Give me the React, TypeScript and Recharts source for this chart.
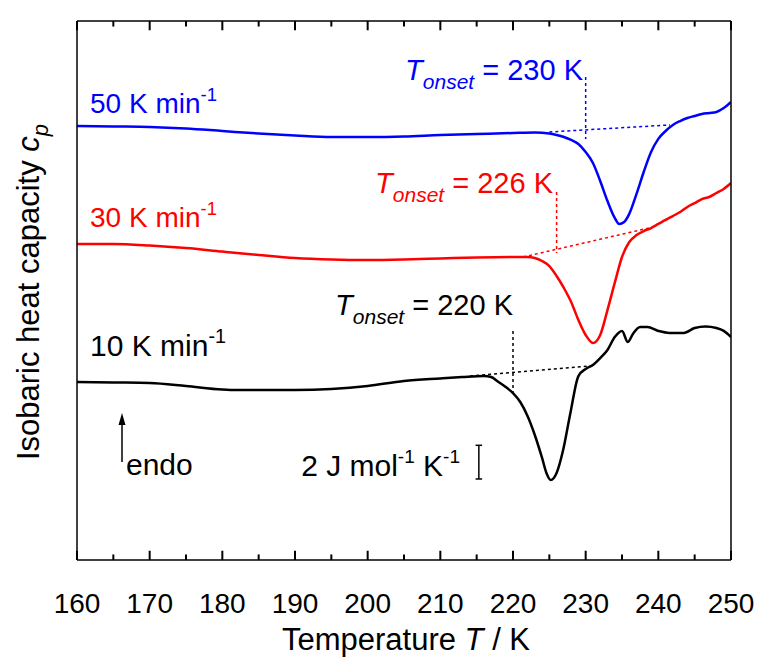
import React from 'react';
import { LineChart, Line, XAxis, YAxis, ReferenceLine } from 'recharts';

// temperature ticks (K)
const tempTicks = [160, 165, 170, 175, 180, 185, 190, 195, 200, 205, 210, 215, 220, 225, 230, 235, 240, 245, 250];

// 50 K/min curve (cp, shifted, J mol-1 K-1)
const temp50 = [160, 165, 170, 175, 180, 185, 190, 195, 200, 205, 210, 215, 220, 223, 225, 226, 227, 228, 229, 230, 231, 232, 233, 234, 234.6, 235.3, 236, 237, 238, 239, 240, 241, 242, 243, 244, 245, 246, 247, 248, 249, 250];
const cp50 = [25.77, 25.74, 25.71, 25.62, 25.47, 25.32, 25.2, 25.11, 25.11, 25.14, 25.23, 25.29, 25.35, 25.38, 25.32, 25.23, 25.11, 24.94, 24.7, 24.22, 23.57, 22.5, 21.31, 20.31, 19.95, 20.07, 20.55, 21.74, 23.05, 24.22, 25.0, 25.47, 25.83, 26.06, 26.24, 26.36, 26.48, 26.54, 26.6, 26.83, 27.19];

// 30 K/min curve
const temp30 = [160, 165, 170, 175, 180, 185, 190, 195, 200, 205, 210, 215, 220, 222, 223, 224, 225, 226, 227, 228, 229, 230, 231, 232, 233, 234, 235, 236, 237, 238, 239, 240, 241, 242, 243, 244, 245, 246, 247, 248, 249, 250];
const cp30 = [18.76, 18.76, 18.67, 18.52, 18.31, 18.11, 17.93, 17.84, 17.81, 17.84, 17.9, 17.96, 17.99, 17.99, 17.93, 17.75, 17.45, 16.86, 16.15, 15.32, 14.25, 13.36, 12.88, 13.36, 14.84, 16.45, 17.99, 18.88, 19.29, 19.53, 19.71, 19.95, 20.19, 20.42, 20.66, 20.96, 21.19, 21.43, 21.55, 21.79, 22.03, 22.38];

// 10 K/min curve
const temp10 = [160, 165, 170, 175, 180, 182, 185, 190, 195, 200, 205, 210, 213, 216, 217, 218, 219, 220, 221, 222, 223, 224, 224.6, 225.2, 226, 226.9, 227.9, 229, 230, 231, 232, 233, 234, 235, 235.8, 236.5, 237.5, 238.5, 240, 241.5, 243.5, 245, 246.5, 248, 249, 250];
const cp10 = [10.57, 10.54, 10.51, 10.33, 10.12, 10.09, 10.09, 10.09, 10.15, 10.33, 10.63, 10.78, 10.86, 10.92, 10.86, 10.57, 10.27, 9.91, 9.38, 8.55, 7.42, 6.06, 5.17, 4.75, 5.17, 6.53, 8.73, 10.92, 11.34, 11.58, 11.99, 12.47, 13.24, 13.6, 12.94, 13.42, 13.83, 13.83, 13.6, 13.48, 13.48, 13.77, 13.86, 13.77, 13.6, 13.24];

// onset construction: baseline extrapolation [T1, cp1, T2, cp2] and vertical marker [T, cpTop, cpBottom]
const baseline50 = [225, 25.41, 241.6, 25.83];
const baseline30 = [221.4, 17.99, 239.3, 19.77];
const baseline10 = [214.1, 10.92, 230.6, 11.52];
const onset50 = [230, 28.67, 24.99];
const onset30 = [226, 21.85, 18.23];
const onset10 = [220, 13.6, 9.91];

// scale bar: 2 J mol-1 K-1
const scaleBar = [215.3, 4.81, 6.81];

const Y_MIN = 0;
const Y_MAX = 32;

const toRows = (ts: number[], vs: number[]) => ts.map((T, i) => ({ T, cp: vs[i] }));
const series50 = toRows(temp50, cp50);
const series30 = toRows(temp30, cp30);
const series10 = toRows(temp10, cp10);

const FONT = '"Liberation Sans", Arial, sans-serif';
const BLUE = '#0000ff';
const RED = '#ff0000';

const BottomTick = (props: any) => {
  const { x, y, payload } = props;
  if (payload.value % 10 !== 0) return <g />;
  return (
    <text x={x} y={y + 53} textAnchor="middle" fontSize={28} fontFamily={FONT} fill="#000">
      {payload.value}
    </text>
  );
};

const dashed = { strokeDasharray: '3 3', strokeWidth: 1.5 };
const frame = { stroke: '#000', strokeWidth: 1.5 };

const Rate = ({ x, y, n, color, size }: { x: number; y: number; n: number; color: string; size: number }) => (
  <text x={x} y={y} fontSize={size} fontFamily={FONT} fill={color}>
    {n} K min
    <tspan fontSize={size * 0.66} dy={-size * 0.43}>-1</tspan>
  </text>
);

const Onset = ({ x, y, t, color }: { x: number; y: number; t: number; color: string }) => (
  <text x={x} y={y} fontSize={29} fontFamily={FONT} fill={color} textAnchor="end">
    <tspan fontStyle="italic">T</tspan>
    <tspan fontStyle="italic" fontSize={21} dy={9}>onset</tspan>
    <tspan dy={-9}>{` = ${t} K`}</tspan>
  </text>
);

export default function App() {
  // inward tick marks on the bottom and top frame edges (length in y-units)
  const tickMarks = tempTicks.flatMap((t) => {
    const len = t % 10 === 0 ? 0.55 : 0.33;
    return [
      <ReferenceLine key={`b${t}`} ifOverflow="visible" segment={[{ x: t, y: Y_MIN }, { x: t, y: Y_MIN + len }]} stroke="#000" strokeWidth={2} />,
      <ReferenceLine key={`t${t}`} ifOverflow="visible" segment={[{ x: t, y: Y_MAX }, { x: t, y: Y_MAX - len }]} stroke="#000" strokeWidth={2} />,
    ];
  });

  return (
    <div style={{ position: 'absolute', left: 0, top: 0, width: 760, height: 657, background: '#fff' }}>
      <LineChart width={760} height={657} margin={{ top: 11, right: 19, bottom: 67, left: 67 }}>
        <XAxis
          dataKey="T"
          type="number"
          domain={[160, 250]}
          ticks={tempTicks}
          interval={0}
          height={30}
          tickSize={0}
          tickMargin={0}
          tickLine={false}
          tick={<BottomTick />}
          axisLine={frame}
          allowDataOverflow
        />
        <XAxis
          xAxisId="top"
          orientation="top"
          dataKey="T"
          type="number"
          domain={[160, 250]}
          height={10}
          tick={false}
          tickLine={false}
          axisLine={frame}
          allowDataOverflow
        />
        <YAxis
          type="number"
          domain={[Y_MIN, Y_MAX]}
          width={10}
          tick={false}
          tickLine={false}
          axisLine={frame}
          allowDataOverflow
        />
        <YAxis
          yAxisId="right"
          orientation="right"
          type="number"
          domain={[Y_MIN, Y_MAX]}
          width={10}
          tick={false}
          tickLine={false}
          axisLine={frame}
          allowDataOverflow
        />

        {tickMarks}

        <ReferenceLine segment={[{ x: baseline50[0], y: baseline50[1] }, { x: baseline50[2], y: baseline50[3] }]} stroke={BLUE} {...dashed} />
        <ReferenceLine segment={[{ x: onset50[0], y: onset50[1] }, { x: onset50[0], y: onset50[2] }]} stroke={BLUE} {...dashed} />
        <ReferenceLine segment={[{ x: baseline30[0], y: baseline30[1] }, { x: baseline30[2], y: baseline30[3] }]} stroke={RED} {...dashed} />
        <ReferenceLine segment={[{ x: onset30[0], y: onset30[1] }, { x: onset30[0], y: onset30[2] }]} stroke={RED} {...dashed} />
        <ReferenceLine segment={[{ x: baseline10[0], y: baseline10[1] }, { x: baseline10[2], y: baseline10[3] }]} stroke="#000" {...dashed} />
        <ReferenceLine segment={[{ x: onset10[0], y: onset10[1] }, { x: onset10[0], y: onset10[2] }]} stroke="#000" {...dashed} />

        <ReferenceLine segment={[{ x: scaleBar[0], y: scaleBar[1] }, { x: scaleBar[0], y: scaleBar[2] }]} stroke="#000" strokeWidth={1.5} />
        <ReferenceLine segment={[{ x: scaleBar[0] - 0.45, y: scaleBar[1] }, { x: scaleBar[0] + 0.45, y: scaleBar[1] }]} stroke="#000" strokeWidth={1.5} />
        <ReferenceLine segment={[{ x: scaleBar[0] - 0.45, y: scaleBar[2] }, { x: scaleBar[0] + 0.45, y: scaleBar[2] }]} stroke="#000" strokeWidth={1.5} />

        <Line data={series50} dataKey="cp" type="monotone" stroke={BLUE} strokeWidth={2.5} dot={false} isAnimationActive={false} />
        <Line data={series30} dataKey="cp" type="monotone" stroke={RED} strokeWidth={2.5} dot={false} isAnimationActive={false} />
        <Line data={series10} dataKey="cp" type="monotone" stroke="#000" strokeWidth={2.5} dot={false} isAnimationActive={false} />
      </LineChart>

      <svg width={760} height={657} style={{ position: 'absolute', left: 0, top: 0, pointerEvents: 'none' }}>
        <Rate x={90} y={113} n={50} color={BLUE} size={28} />
        <Rate x={90} y={227} n={30} color={RED} size={28} />
        <Rate x={90} y={356} n={10} color="#000" size={30} />
        <Onset x={583} y={80} t={230} color={BLUE} />
        <Onset x={553} y={193} t={226} color={RED} />
        <Onset x={513} y={315} t={220} color="#000" />

        <line x1={122} x2={122} y1={462} y2={424} stroke="#000" strokeWidth={1.5} />
        <polygon points="122,413 118.5,425 125.5,425" fill="#000" />
        <text x={126} y={475} fontSize={30} fontFamily={FONT} fill="#000">endo</text>

        <text x={460} y={476} fontSize={30} fontFamily={FONT} fill="#000" textAnchor="end">
          2 J mol<tspan fontSize={19} dy={-13}>-1</tspan>
          <tspan dy={13}> K</tspan>
          <tspan fontSize={19} dy={-13}>-1</tspan>
        </text>

        <text x={406} y={650} fontSize={31} fontFamily={FONT} fill="#000" textAnchor="middle">
          Temperature <tspan fontStyle="italic">T</tspan> / K
        </text>
        <text
          transform="translate(39, 292) rotate(-90)"
          fontSize={31}
          fontFamily={FONT}
          fill="#000"
          textAnchor="middle"
        >
          Isobaric heat capacity <tspan fontStyle="italic">c</tspan>
          <tspan fontStyle="italic" fontSize={22} dy={9}>p</tspan>
        </text>
      </svg>
    </div>
  );
}
